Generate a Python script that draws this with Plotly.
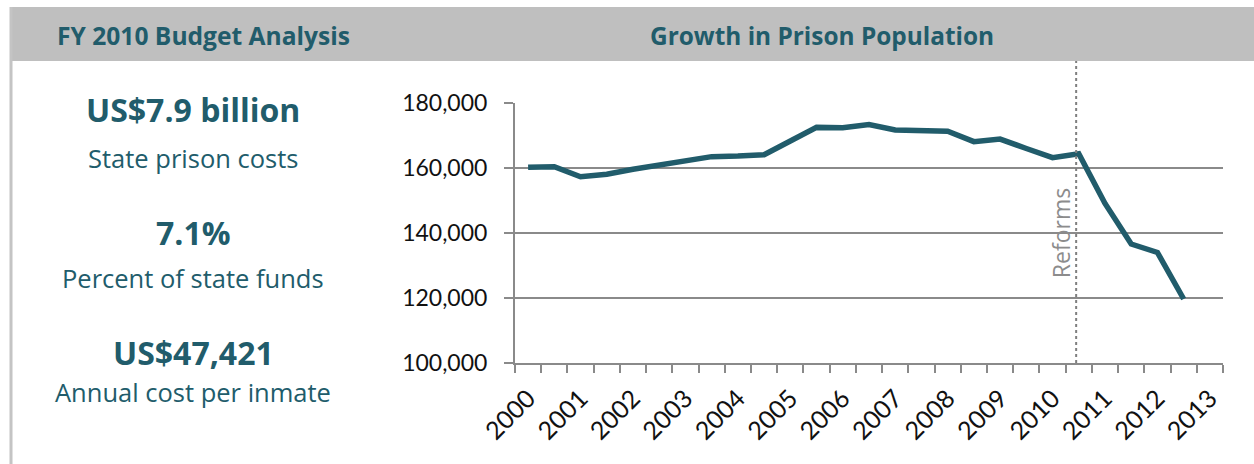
import plotly.graph_objects as go

# Semi-annual prison population counts, starting in 2000
population = [160200, 160400, 157300, 158100, 159600, 160900, 162000, 163500,
              163700, 164100, 168300, 172500, 172400, 173400, 171700, 171300,
              171300, 168100, 168900, 166000, 163200, 164400, 149100, 136600,
              134000, 119700]
year_labels = ["2000", "2001", "2002", "2003", "2004", "2005", "2006",
               "2007", "2008", "2009", "2010", "2011", "2012", "2013"]
y_ticks = [100000, 120000, 140000, 160000, 180000]
reform_position = 20.9
reform_label = "Reforms"

# Summary figures for the left-hand panel
summary_values = ["US$7.9 billion", "7.1%", "US$47,421"]
summary_captions = ["State prison costs", "Percent of state funds", "Annual cost per inmate"]
panel_titles = ["FY 2010 Budget Analysis", "Growth in Prison Population"]

W, H = 1254, 464
TEAL = "#215C6B"
GRID = "#8A8A8A"


def fx(px):
    return px / W


def fy(py):
    return 1 - py / H


n_slots = 27  # one slot per half year, 2000 through 2013
x_vals = list(range(len(population)))
label_positions = list(range(0, n_slots, 2))

fig = go.Figure()
fig.add_trace(go.Scatter(
    x=x_vals, y=population, mode="lines",
    line=dict(color=TEAL, width=5.5),
    hoverinfo="skip", showlegend=False,
))

fig.update_layout(
    width=W, height=H,
    margin=dict(l=0, r=0, t=0, b=0, autoexpand=False),
    paper_bgcolor="white", plot_bgcolor="white",
    showlegend=False,
    xaxis=dict(
        domain=[fx(515), fx(1223)],
        range=[-0.5, n_slots - 0.5],
        automargin=False,
        tickmode="array", tickvals=label_positions, ticktext=year_labels,
        tickangle=-45, ticks="", showgrid=False, zeroline=False,
        showline=True, linecolor=GRID, linewidth=2,
        ticklabelstandoff=9,
        tickfont=dict(family="Lato", size=25, color="#111111"),
        minor=dict(tickmode="linear", tick0=-0.5, dtick=1, ticks="outside",
                   ticklen=8, tickwidth=1.5, tickcolor=GRID, showgrid=False),
    ),
    yaxis=dict(
        domain=[fy(363), fy(103)],
        range=[100000, 180000],
        automargin=False,
        tickmode="array", tickvals=y_ticks, tickformat=",",
        ticks="outside", ticklen=9, tickwidth=1.5, tickcolor=GRID,
        showgrid=True, gridcolor=GRID, gridwidth=1.5, zeroline=False,
        showline=True, linecolor=GRID, linewidth=2,
        ticklabelstandoff=12,
        tickfont=dict(family="Lato", size=23, color="#111111"),
    ),
)

# Header band and left frame line
fig.add_shape(type="rect", xref="paper", yref="paper",
              x0=fx(10), x1=1, y0=fy(61), y1=fy(7),
              fillcolor="#BFBFBF", line=dict(width=0), layer="below")
fig.add_shape(type="line", xref="paper", yref="paper",
              x0=fx(11), x1=fx(11), y0=0, y1=fy(7),
              line=dict(color="#C4C4C4", width=3))

# Reforms marker
fig.add_shape(type="line", xref="x", yref="paper",
              x0=reform_position, x1=reform_position, y0=fy(363), y1=fy(61),
              line=dict(color="#7F7F7F", width=2, dash="dot"))
fig.add_annotation(x=reform_position, y=140000, xref="x", yref="y",
                   text=reform_label, textangle=-90, showarrow=False,
                   xanchor="right", yanchor="middle", xshift=3,
                   font=dict(family="Open Sans", size=23, color="#8C8C8C"))


def centered_text(px, py, text, size):
    fig.add_annotation(x=fx(px), y=fy(py), xref="paper", yref="paper",
                       xanchor="center", yanchor="middle",
                       text=text, showarrow=False,
                       font=dict(family="Open Sans", size=size, color=TEAL))


# Panel titles
centered_text(204, 35, "<b>%s</b>" % panel_titles[0], 24.6)
centered_text(822, 35, "<b>%s</b>" % panel_titles[1], 24.4)

# Left panel key figures
value_rows = [110, 232, 352]
caption_rows = [158, 278, 392]
for val, cap, vy, cy in zip(summary_values, summary_captions, value_rows, caption_rows):
    centered_text(193, vy, "<b>%s</b>" % val, 32)
    centered_text(193, cy, cap, 25.5)

fig.write_html("out.html")
